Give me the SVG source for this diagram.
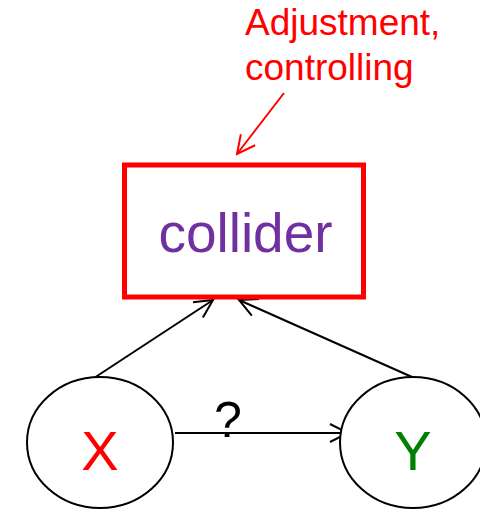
<svg xmlns="http://www.w3.org/2000/svg" width="480" height="509" viewBox="0 0 480 509">
<style>
text{font-family:"Liberation Sans",Arial,sans-serif}
.edge{stroke:#000;stroke-width:2;fill:none}
.node{stroke:#000;stroke-width:2;fill:#fff}
</style>
<defs>
<marker id="ah" markerUnits="userSpaceOnUse" viewBox="-20 -12 22 24" markerWidth="22" markerHeight="24" refX="0" refY="0" orient="auto">
<path d="M-18,-9 L0,0 L-18,9" fill="none" stroke="#000" stroke-width="2"/>
</marker>
<marker id="ahr" markerUnits="userSpaceOnUse" viewBox="-20 -12 22 24" markerWidth="22" markerHeight="24" refX="0" refY="0" orient="auto">
<path d="M-18,-9 L0,0 L-18,9" fill="none" stroke="#f00" stroke-width="2"/>
</marker>
</defs>
<rect width="480" height="509" fill="#fff"/>
<g id="connectors">
<line class="edge" x1="94" y1="378" x2="213" y2="300" marker-end="url(#ah)"/>
<line class="edge" x1="412" y1="377" x2="239" y2="300" marker-end="url(#ah)"/>
<line class="edge" x1="175" y1="433" x2="348" y2="433" marker-end="url(#ah)"/>
<line x1="284" y1="93" x2="237" y2="154" stroke="#f00" stroke-width="2" marker-end="url(#ahr)"/>
</g>
<g id="label-adjust">
<text x="245" y="35" font-size="37" fill="#f00">Adjustment,</text>
<text x="245" y="80" font-size="37" fill="#f00">controlling</text>
</g>
<g id="collider">
<rect x="124.5" y="165" width="239" height="132" fill="#fff" stroke="#f00" stroke-width="5"/>
<text x="245.5" y="251.5" font-size="55" fill="#7030a0" text-anchor="middle">collider</text>
</g>
<g id="X">
<ellipse class="node" cx="100" cy="442.5" rx="73" ry="65.5"/>
<text x="100" y="470" font-size="56" fill="#f00" text-anchor="middle">X</text>
</g>
<g id="Y">
<ellipse class="node" cx="413" cy="442.5" rx="73" ry="65.5"/>
<text x="413" y="470" font-size="56" fill="#008000" text-anchor="middle">Y</text>
</g>
<g id="q">
<text x="228" y="437" font-size="50" fill="#000" text-anchor="middle">?</text>
</g>
</svg>
